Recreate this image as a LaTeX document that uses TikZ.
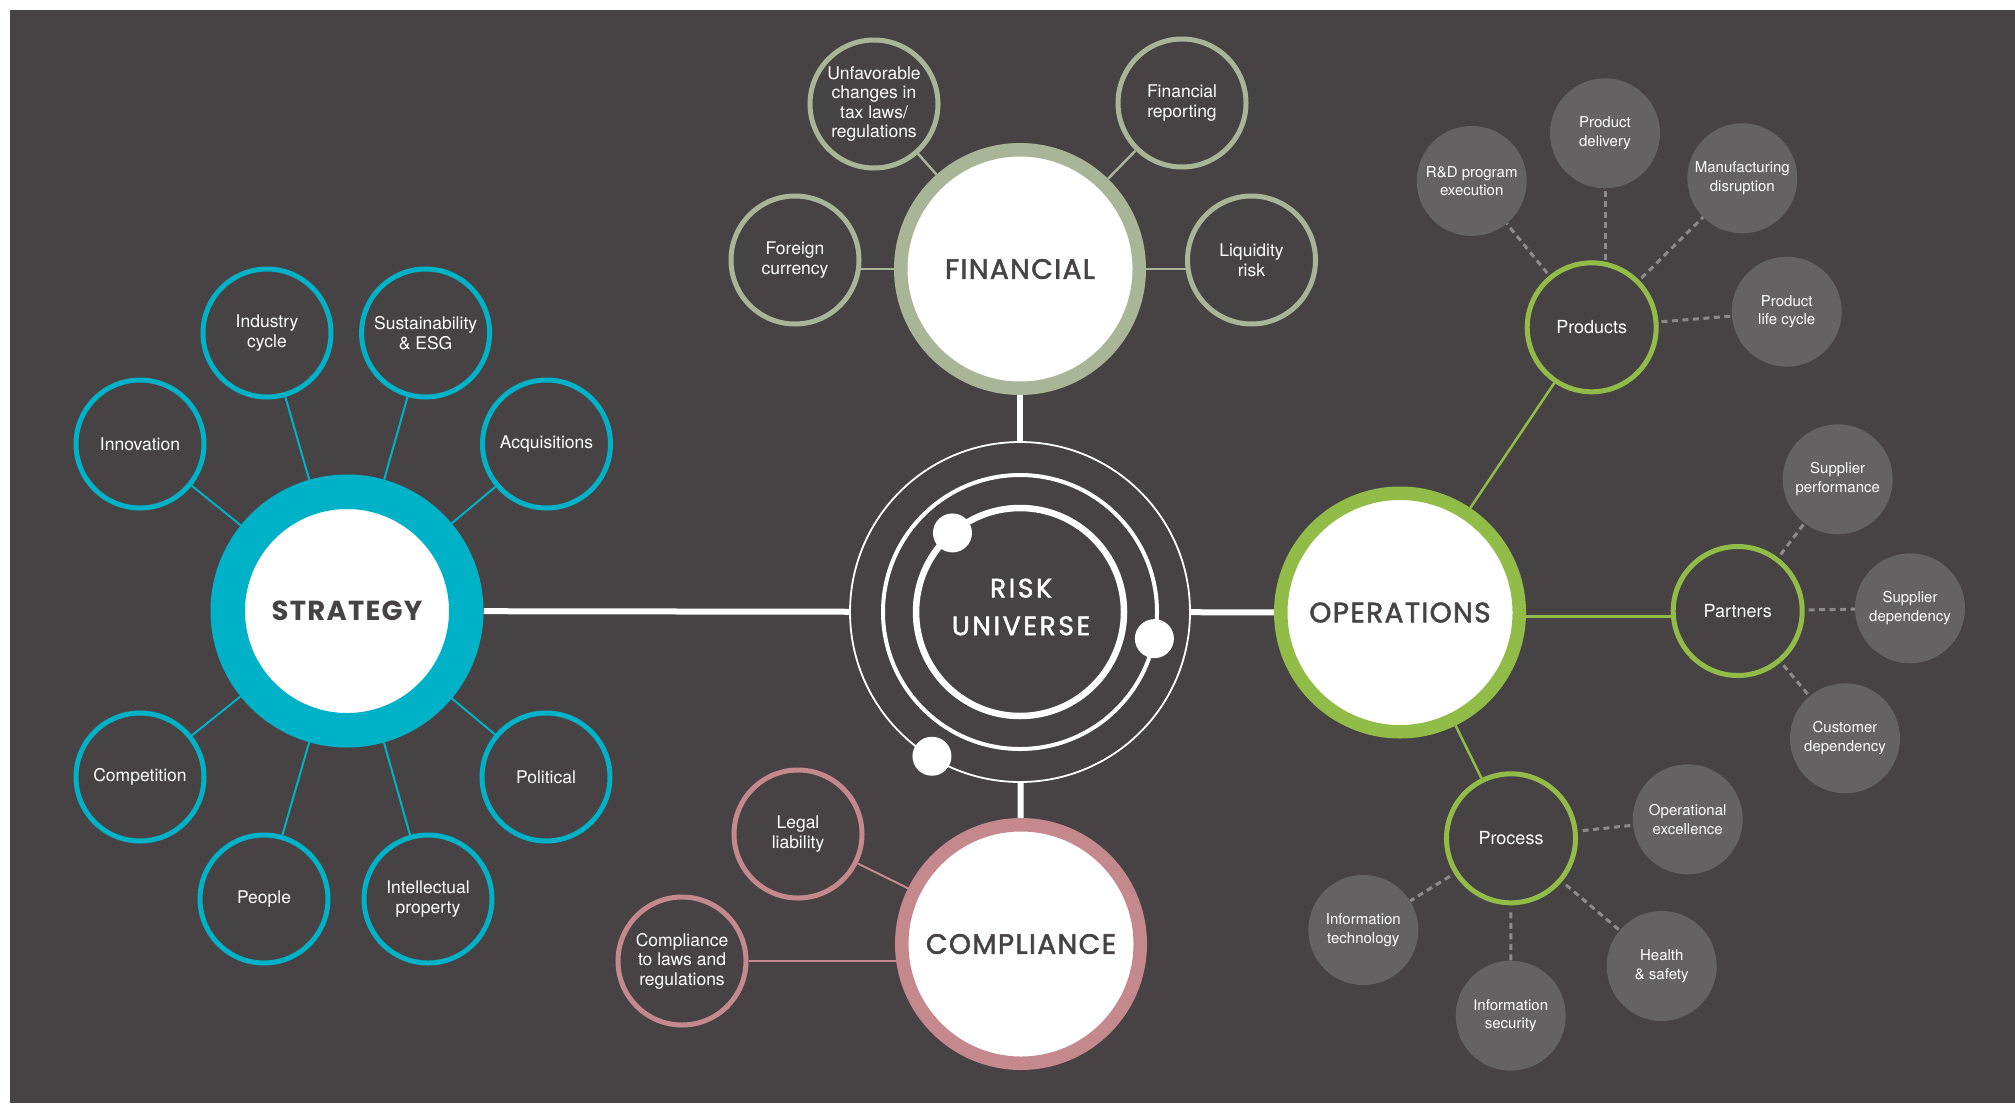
\documentclass[tikz,border=0pt]{standalone}
\usepackage{fontspec}
\setmainfont{TeX Gyre Heros}
\newfontfamily\popfont{Poppins}[BoldFont=*, BoldFeatures={FakeBold=2}, LetterSpace=5]
\newfontfamily\popwide{Poppins}[BoldFont=*, BoldFeatures={FakeBold=2}, LetterSpace=10]
\newfontfamily\popbold{Poppins}[LetterSpace=4.5]
\definecolor{bgc}{HTML}{474345}
\definecolor{cteal}{HTML}{00B2C8}
\definecolor{csage}{HTML}{A8B597}
\definecolor{cgreen}{HTML}{91BC47}
\definecolor{cpink}{HTML}{C4888D}
\definecolor{cgray}{HTML}{656264}
\definecolor{cdash}{HTML}{8D8A8C}
\pgfdeclarelayer{bgl}
\pgfdeclarelayer{lines}
\pgfsetlayers{bgl,lines,main}
\begin{document}
\begin{tikzpicture}[x=1pt,y=-1pt,
  mainnode/.style={circle, minimum size=238.5pt, inner sep=0pt, fill=white, line width=13.5pt, text=bgc, font=\popfont\bfseries\fontsize{28}{30}\selectfont},
  sat/.style={circle, minimum size=128pt, inner sep=0pt, fill=bgc, line width=5pt, text=white, align=center, font=\fontsize{17.5}{19.6}\selectfont},
  opsat/.style={sat, minimum size=129pt, draw=cgreen, font=\fontsize{18}{20}\selectfont},
  graysat/.style={circle, minimum size=110pt, inner sep=0pt, fill=cgray, text=white, align=center, font=\fontsize{15}{18.7}\selectfont},
  dashline/.style={draw=cdash, line width=3pt, dash pattern=on 6pt off 4.5pt},
  wline/.style={draw=white, line width=6pt}]
\useasboundingbox (0,0) rectangle (2015,1103);
\begin{pgfonlayer}{bgl}
\fill[bgc] (10,10) rectangle (2015,1103);
\end{pgfonlayer}

% centre
\node[circle, minimum size=340pt, inner sep=0pt, draw=white, line width=1.8pt] (ru) at (1020,612) {};
\node[text=white, align=center, font=\popwide\bfseries\fontsize{26.5}{37.7}\selectfont] (rutext) at (1021,607) {RISK\\UNIVERSE};
\draw[white, line width=4pt] (ru.center) circle[radius=137pt];
\draw[white, line width=6.5pt] (ru.center) circle[radius=104pt];
\fill[white] (ru.center) ++(130.5:104pt) circle[radius=19.5pt];
\fill[white] (ru.center) ++(-11.2:137pt) circle[radius=19.5pt];
\fill[white] (ru.center) ++(238.6:169pt) circle[radius=19.5pt];

% main nodes
\node[mainnode, draw=cteal, line width=34.5pt, font=\popbold\bfseries\fontsize{27.5}{30}\selectfont] (strat) at (347,611) {STRATEGY};
\node[mainnode, draw=csage] (fin) at (1020,269) {FINANCIAL};
\node[mainnode, draw=cgreen] (ops) at (1400,612.5) {OPERATIONS};
\node[mainnode, draw=cpink] (compl) at (1021,944) {COMPLIANCE};

% strategy satellites
\node[sat, draw=cteal] (innov) at (140,444) {Innovation};
\node[sat, draw=cteal] (indcyc) at (267,333) {Industry\\cycle};
\node[sat, draw=cteal] (sust) at (425.6,333) {Sustainability\\\& ESG};
\node[sat, draw=cteal] (acq) at (546.5,444) {Acquisitions};
\node[sat, draw=cteal] (compet) at (140,777) {Competition};
\node[sat, draw=cteal] (pol) at (546,777) {Political};
\node[sat, draw=cteal] (people) at (264,899) {People};
\node[sat, draw=cteal] (ip) at (428,899) {Intellectual\\property};

% financial satellites
\node[sat, draw=csage] (unf) at (874,104) {Unfavorable\\changes in\\tax laws/\\regulations};
\node[sat, draw=csage] (frep) at (1182,103) {Financial\\reporting};
\node[sat, draw=csage] (fcur) at (795,260) {Foreign\\currency};
\node[sat, draw=csage] (liq) at (1251.5,260) {Liquidity\\risk};

% compliance satellites
\node[sat, draw=cpink] (legal) at (798,834) {Legal\\liability};
\node[sat, draw=cpink] (claws) at (682,961) {Compliance\\to laws and\\regulations};

% operations satellites
\node[opsat] (prod) at (1591.7,327.3) {Products};
\node[opsat] (part) at (1737.7,611) {Partners};
\node[opsat] (proc) at (1511,838.3) {Process};

\node[graysat] (rd) at (1471.7,181) {R\&D program\\execution};
\node[graysat] (pdel) at (1605,133.3) {Product\\delivery};
\node[graysat] (mfg) at (1742.3,178.3) {Manufacturing\\disruption};
\node[graysat] (plc) at (1786.7,311.7) {Product\\life cycle};
\node[graysat] (sperf) at (1837.7,479.3) {Supplier\\performance};
\node[graysat] (sdep) at (1910,608.3) {Supplier\\dependency};
\node[graysat] (cdep) at (1845,738.3) {Customer\\dependency};
\node[graysat] (opex) at (1687.7,819.3) {Operational\\excellence};
\node[graysat] (itech) at (1363.3,930) {Information\\technology};
\node[graysat] (isec) at (1510.7,1015.7) {Information\\security};
\node[graysat] (hs) at (1661.7,966) {Health\\\& safety};

\begin{pgfonlayer}{lines}
% white spokes
\draw[wline] (strat) -- (ru);
\draw[wline] (ru) -- (ops);
\draw[wline] (fin) -- (ru);
\draw[wline] (ru) -- (compl);
% strategy
\foreach \s in {innov,indcyc,sust,acq,compet,pol,people,ip}
  \draw[cteal, line width=2pt] (\s) -- (strat);
% financial
\draw[csage, line width=2.5pt] (unf) -- (fin);
\draw[csage, line width=2.5pt] (frep) -- (fin);
\draw[csage, line width=2.5pt] (fin -| fcur) -- (fin);
\draw[csage, line width=2.5pt] (fin -| liq) -- (fin);
% compliance
\draw[cpink, line width=2pt] (legal) -- (compl);
\draw[cpink, line width=2pt] (claws) -- (claws -| compl);
% operations
\draw[cgreen, line width=2.5pt] (ops) -- (prod);
\draw[cgreen, line width=2.5pt] (ops) -- (proc);
\draw[cgreen, line width=2.5pt] ([yshift=-4pt]ops.center) -- ([yshift=-4pt]ops.center -| part);
% dashed
\foreach \g in {rd,mfg,plc}
  \draw[dashline, shorten <=3pt] (prod) -- (\g);
\draw[dashline, shorten <=2pt] (pdel.south) -- (pdel.south |- prod.north);
\foreach \g in {sperf,sdep,cdep}
  \draw[dashline, shorten <=4pt] (part) -- (\g);
\foreach \g in {opex,itech,hs}
  \draw[dashline, shorten <=5pt] (proc) -- (\g);
\draw[dashline, shorten <=7pt] (proc) -- (isec);
\end{pgfonlayer}
\end{tikzpicture}
\end{document}
